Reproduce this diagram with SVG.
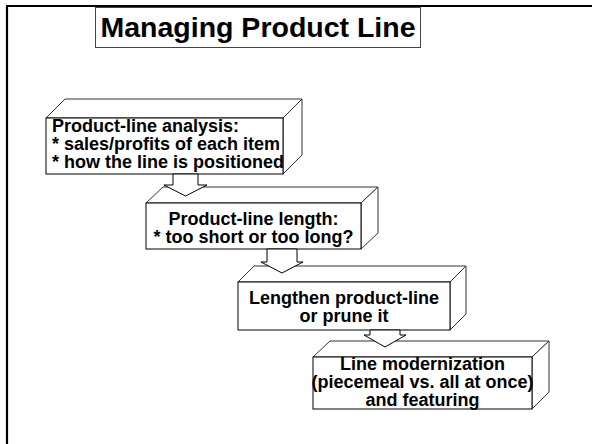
<svg xmlns="http://www.w3.org/2000/svg" width="592" height="444" viewBox="0 0 592 444">
<style>
.face{fill:#ffffff;stroke:#000000;stroke-width:1}
.side{fill:#ffffff;stroke:#333333;stroke-width:1}
.arrow{fill:#ffffff;stroke:#000000;stroke-width:1}
.t{font-family:"Liberation Sans",Arial,sans-serif;font-weight:bold;font-size:18px;fill:#000000}
.c{text-anchor:middle}
</style>
<rect width="592" height="444" fill="#ffffff"/>
<g id="frame">
<path d="M6 6 H592 M7 6 V444" fill="none" stroke="#000000" stroke-width="2.2"/>
</g>
<g id="title">
<rect x="95.5" y="7.5" width="325" height="40" fill="#ffffff" stroke="#444444" stroke-width="1"/>
<text x="258" y="37" class="t c" style="font-size:28.5px">Managing Product Line</text>
</g>
<g id="node1">
<polygon class="side" points="46,118 65,99 302,99 283,118"/>
<polygon class="side" points="283,118 302,99 302,155 283,174"/>
<rect class="face" x="46" y="118" width="237" height="56"/>
<text class="t" x="52" y="132">Product-line analysis:</text>
<text class="t" x="52" y="150">* sales/profits of each item</text>
<text class="t" x="52" y="168">* how the line is positioned</text>
</g>
<g id="node2">
<polygon class="side" points="146,203 163,187 378,187 361,203"/>
<polygon class="side" points="361,203 378,187 378,233 361,249"/>
<rect class="face" x="146" y="203" width="215" height="46"/>
<text class="t c" x="253.5" y="225">Product-line length:</text>
<text class="t c" x="253.5" y="243">* too short or too long?</text>
</g>
<g id="node3">
<polygon class="side" points="238,282 254,266 466,266 450,282"/>
<polygon class="side" points="450,282 466,266 466,314 450,330"/>
<rect class="face" x="238" y="282" width="212" height="48"/>
<text class="t c" x="344" y="304">Lengthen product-line</text>
<text class="t c" x="344" y="322">or prune it</text>
</g>
<g id="node4">
<polygon class="side" points="313,357 330,341 549,341 532,357"/>
<polygon class="side" points="532,357 549,341 549,392 532,409"/>
<rect class="face" x="313" y="357" width="219" height="52"/>
<text class="t c" x="422.5" y="370">Line modernization</text>
<text class="t c" x="422.5" y="388">(piecemeal vs. all at once)</text>
<text class="t c" x="422.5" y="406">and featuring</text>
</g>
<g id="connectors">
<polygon class="arrow" points="173,174 198,174 198,185 207,185 185.5,196 164,185 173,185"/>
<polygon class="arrow" points="267,249 297,249 297,262 303,262 282,273 261,262 267,262"/>
<polygon class="arrow" points="370,330 400,330 400,335 406,335 385,347 364,335 370,335"/>
</g>
</svg>
